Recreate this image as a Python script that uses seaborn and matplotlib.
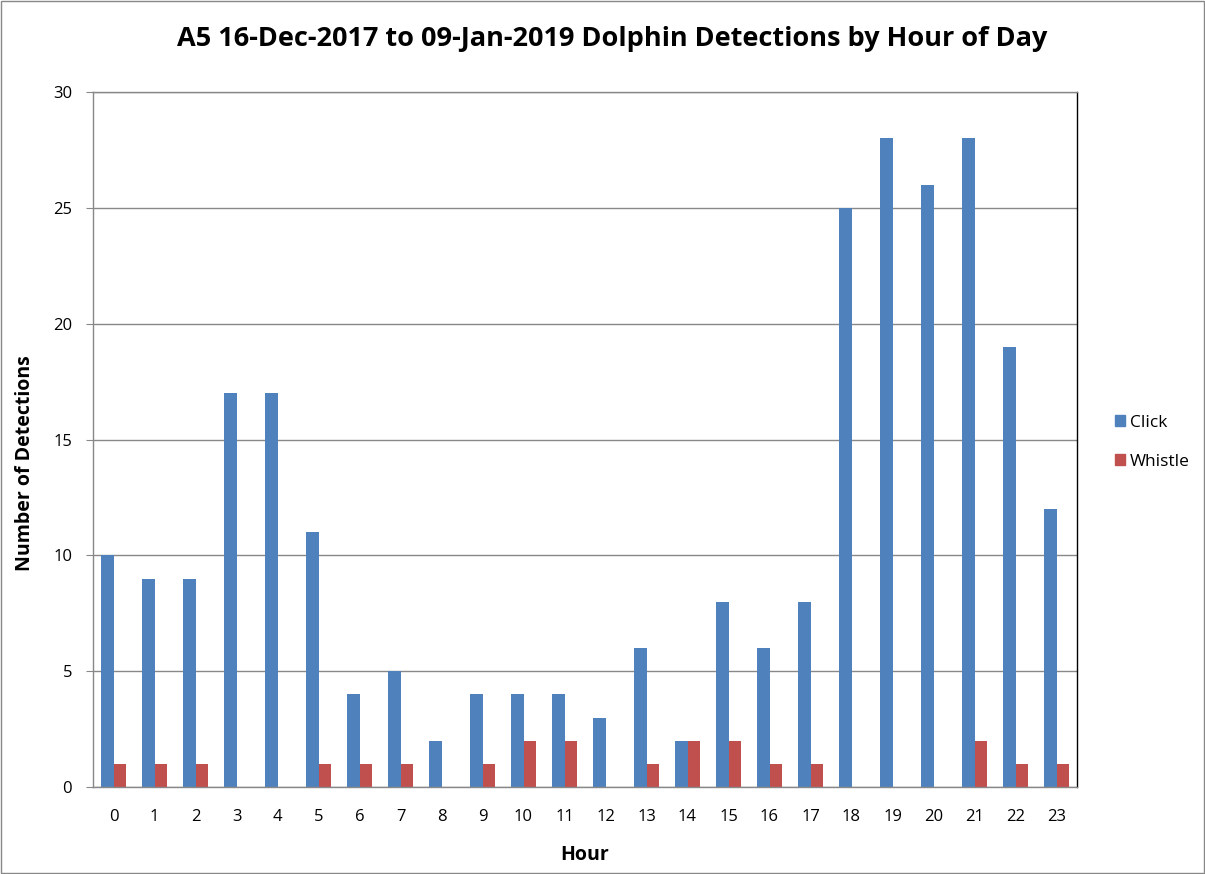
import numpy as np
import pandas as pd
import matplotlib.pyplot as plt
import seaborn as sns

# Data
hours = list(range(24))
click = [10, 9, 9, 17, 17, 11, 4, 5, 2, 4, 4, 4, 3, 6, 2, 8, 6, 8, 25, 28, 26, 28, 19, 12]
whistle = [1, 1, 1, 0, 0, 1, 1, 1, 0, 1, 2, 2, 0, 1, 2, 2, 1, 1, 0, 0, 0, 2, 1, 1]
series = ["Click", "Whistle"]
colors = ["#4F81BD", "#C0504D"]

df = pd.DataFrame({
    "Hour": hours * 2,
    "Count": click + whistle,
    "Type": ["Click"] * 24 + ["Whistle"] * 24,
})

sns.set_style("white")
plt.rcParams["font.family"] = ["Open Sans", "DejaVu Sans"]
plt.rcParams["text.color"] = "black"
plt.rcParams["xtick.color"] = "black"
plt.rcParams["ytick.color"] = "black"
plt.rcParams["axes.labelcolor"] = "black"

fig = plt.figure(figsize=(12.05, 8.74), dpi=100)
ax = fig.add_axes([0.0772, 0.0995, 0.8166, 0.7952])

sns.barplot(data=df, x="Hour", y="Count", hue="Type", hue_order=series,
            palette=colors, width=0.6, gap=0, saturation=1,
            linewidth=0, edgecolor="none", ax=ax, legend=False)

ax.set_ylim(0, 30)
ax.set_xlim(-0.5, 23.5)
ax.set_yticks(range(0, 31, 5))
ax.yaxis.grid(True, color="#888888", linewidth=1)
ax.set_axisbelow(True)

# ticks between categories
ax.set_xticks(np.arange(-0.5, 24, 1), minor=True)
ax.tick_params(axis="x", which="major", length=0, labelsize=12, pad=16)
ax.tick_params(axis="x", which="minor", length=5, color="#888888", direction="out")
ax.tick_params(axis="y", length=5, color="#888888", direction="out", labelsize=12,
               pad=10, left=True, labelcolor="black")
ax.tick_params(axis="x", labelcolor="black")

for s in ax.spines.values():
    s.set_color("#888888")
    s.set_linewidth(1)
ax.spines["right"].set_color("#000000")

ax.set_xlabel("Hour", fontsize=14, fontweight="bold", labelpad=14)
ax.set_ylabel("Number of Detections", fontsize=14, fontweight="bold")
ax.yaxis.set_label_coords(-0.059, 0.466)

fig.suptitle("A5 16-Dec-2017 to 09-Jan-2019 Dolphin Detections by Hour of Day",
             x=0.508, y=0.97, fontsize=19.5, fontweight="bold")

handles = [plt.Rectangle((0, 0), 1, 1, color=c) for c in colors]
fig.legend(handles, series, loc="center left", bbox_to_anchor=(0.912, 0.494),
           frameon=False, fontsize=12.5, handlelength=0.6, handleheight=0.6,
           handletextpad=0.3, labelspacing=1.3)

border = plt.Rectangle((0.001, 0.001), 0.998, 0.998, transform=fig.transFigure,
                       fill=False, edgecolor="#888888", linewidth=1)
fig.patches.append(border)

fig.savefig("out.png", dpi=100)
